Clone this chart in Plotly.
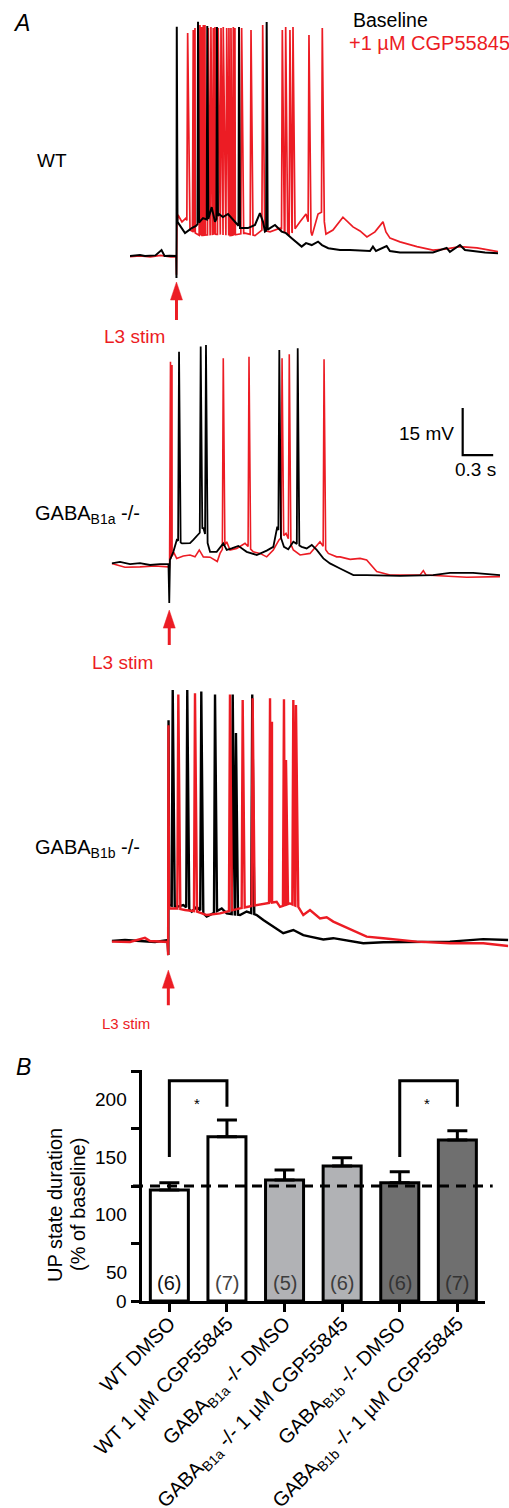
import numpy as np
import plotly.graph_objects as go

# ---------------- DATA ----------------
RED = "#ec1c24"
FONT = "Liberation Sans, Arial, Helvetica, sans-serif"

# Panel A traces: (time s, membrane potential mV) envelope points
wt_black_env = [(0, -70.0), (0.098, -69.7), (0.147, -70.0), (0.25, -69.8), (0.31, -68.1), (0.34, -70.0),
                (0.39, -69.9), (0.455, -70.0), (0.457, -77.0), (0.460, 3.2), (0.467, -59.1), (0.511, -61.4),
                (0.541, -62.7), (0.607, -61.1), (0.649, -60.4), (0.718, -57.9), (0.767, -58.5), (0.803, -54.4),
                (0.836, -59.1), (0.875, -56.6), (0.914, -57.6), (0.964, -56.6), (1.0, -57.9), (1.042, -59.1),
                (1.082, -61.1), (1.160, -61.1), (1.229, -60.1), (1.278, -56.3), (1.308, -59.1), (1.327, -62.2),
                (1.377, -61.1), (1.426, -60.1), (1.492, -62.2), (1.534, -62.7), (1.590, -64.3), (1.688, -67.0),
                (1.731, -65.9), (1.787, -66.5), (1.849, -65.4), (1.888, -66.5), (1.950, -67.5), (2.065, -68.1),
                (2.163, -68.1), (2.360, -68.4), (2.389, -67.0), (2.419, -68.4), (2.524, -66.8), (2.556, -68.4),
                (2.655, -68.9), (2.819, -69.0), (2.979, -68.9), (3.114, -67.4), (3.146, -68.7), (3.245, -66.5),
                (3.294, -68.1), (3.373, -68.4), (3.491, -68.9), (3.619, -69.1)]
wt_black_spikes = [(0.669, 4.8), (0.760, 3.4), (0.855, 3.1), (1.072, 3.1), (1.344, 4.7)]

wt_red_env = [(0, -70.2), (0.1, -70.0), (0.2, -70.3), (0.3, -69.8), (0.4, -70.3), (0.455, -70.2),
              (0.457, -76.0), (0.462, -60.0), (0.472, -56.9), (0.511, -59.1), (0.551, -57.9), (0.590, -61.7),
              (0.688, -63.5), (0.836, -63.0), (0.983, -63.5), (1.131, -62.7), (1.229, -63.5), (1.298, -61.7),
              (1.377, -62.3), (1.475, -61.1), (1.573, -63.5), (1.672, -59.1), (1.731, -56.6), (1.790, -63.5),
              (1.849, -56.6), (1.898, -55.8), (1.927, -63.0), (1.996, -61.7), (2.094, -57.6), (2.143, -59.1),
              (2.193, -60.7), (2.262, -62.0), (2.330, -63.9), (2.409, -62.3), (2.488, -59.1), (2.517, -62.3),
              (2.557, -64.3), (2.655, -65.5), (2.822, -67.0), (2.979, -68.1), (3.097, -67.8), (3.245, -67.0),
              (3.412, -67.4), (3.619, -68.6)]
wt_red_spikes = [(0.567, 1.2), (0.622, 2.1), (0.639, 2.8), (0.688, 3.7), (0.705, 3.1), (0.721, 3.7),
                 (0.737, 3.7), (0.770, 2.8), (0.796, 3.1), (0.819, 2.8), (0.836, 3.1), (0.868, 2.8),
                 (0.895, 2.8), (0.917, 3.1), (0.951, 2.8), (0.973, 2.8), (0.993, 2.8), (1.016, 3.1),
                 (1.032, 2.8), (1.098, 2.8), (1.190, 2.1), (1.305, 3.7), (1.498, 2.1), (1.531, 3.1),
                 (1.573, 2.1), (1.603, 3.1), (1.760, 0.5), (1.891, 2.8)]

b1a_black_env = [(0, -69.5), (0.082, -69.0), (0.180, -69.7), (0.278, -69.4), (0.377, -70.0), (0.475, -69.7),
                 (0.558, -69.7), (0.566, -82.1), (0.573, -68.4), (0.606, -65.8), (0.640, -62.0), (0.691, -63.1),
                 (0.770, -63.0), (0.802, -62.0), (0.852, -60.4), (0.900, -58.0), (0.967, -65.8), (1.032, -65.8),
                 (1.097, -63.1), (1.131, -65.2), (1.180, -64.7), (1.245, -63.9), (1.327, -65.8), (1.426, -66.8),
                 (1.524, -65.4), (1.589, -64.2), (1.628, -57.8), (1.694, -64.2), (1.736, -65.0), (1.786, -62.6),
                 (1.868, -64.2), (1.917, -64.7), (1.967, -63.6), (2.016, -65.2), (2.081, -67.9), (2.146, -69.5),
                 (2.245, -71.1), (2.376, -73.2), (2.507, -73.2), (2.835, -73.5), (3.159, -73.2), (3.326, -72.5),
                 (3.553, -72.5), (3.818, -73.2)]
b1a_black_spikes = [(0.662, -1.9), (0.875, -0.3), (0.927, 0.2), (1.648, -1.4), (1.829, -0.8)]

b1a_red_env = [(0, -69.5), (0.131, -70.7), (0.278, -70.6), (0.426, -70.3), (0.558, -70.6), (0.566, -71.5),
               (0.570, -69.0), (0.610, -66.0), (0.639, -67.9), (0.704, -67.1), (0.770, -66.8), (0.819, -67.4),
               (0.861, -65.2), (0.901, -67.4), (0.967, -67.5), (1.038, -68.9), (1.065, -66.3), (1.131, -62.6),
               (1.163, -65.2), (1.229, -64.7), (1.311, -63.1), (1.392, -65.8), (1.458, -66.3), (1.524, -67.4),
               (1.589, -65.2), (1.645, -62.0), (1.714, -59.9), (1.786, -65.2), (1.852, -66.8), (1.950, -66.3),
               (2.048, -62.6), (2.130, -66.3), (2.212, -67.4), (2.245, -67.4), (2.344, -68.2), (2.442, -67.9),
               (2.507, -68.4), (2.606, -72.1), (2.736, -73.2), (3.032, -73.2), (3.064, -71.8), (3.090, -73.2),
               (3.491, -73.9), (3.818, -73.7)]
b1a_red_spikes = [(0.578, -5.1), (0.593, -6.2), (1.097, -4.0), (1.350, -3.5), (1.675, -4.0), (1.746, -2.7),
                  (2.088, -4.3)]

b1b_black_env = [(0, -70.0), (0.131, -69.7), (0.278, -70.0), (0.426, -70.3), (0.549, -69.7), (0.557, -74.5),
                 (0.559, 0.5), (0.565, -58.5), (0.639, -59.1), (0.704, -58.5), (0.787, -60.6), (0.836, -59.1),
                 (0.934, -62.2), (0.967, -61.7), (1.082, -59.6), (1.131, -61.2), (1.262, -61.7), (1.327, -60.6),
                 (1.426, -61.7), (1.491, -63.3), (1.589, -65.4), (1.687, -67.5), (1.786, -66.5), (1.884, -68.1),
                 (1.950, -68.6), (2.081, -69.5), (2.179, -69.1), (2.343, -69.9), (2.474, -70.7), (2.671, -70.4),
                 (2.999, -70.2), (3.326, -70.2), (3.654, -69.4), (3.900, -69.7)]
b1b_black_spikes = [(0.600, 10.1), (0.743, 10.1), (0.881, 9.6), (1.016, 8.7), (1.190, 8.7), (1.222, -3.6),
                    (1.382, 8.7)]

b1b_red_env = [(0, -70.2), (0.180, -70.3), (0.327, -69.0), (0.377, -70.0), (0.549, -70.3), (0.555, -74.5),
               (0.558, -1.1), (0.564, -59.6), (0.640, -59.6), (0.721, -60.1), (0.836, -60.6), (0.934, -61.7),
               (1.065, -61.2), (1.131, -60.6), (1.262, -59.6), (1.426, -58.5), (1.524, -58.0), (1.622, -57.5),
               (1.655, -59.1), (1.753, -58.0), (1.835, -59.1), (1.884, -61.7), (1.950, -60.1), (2.048, -62.8),
               (2.114, -62.4), (2.179, -63.8), (2.343, -66.3), (2.507, -68.6), (2.671, -69.1), (2.999, -70.2),
               (3.326, -70.7), (3.654, -70.7), (3.900, -71.6)]
b1b_red_spikes = [(0.655, 8.7), (0.819, 9.1), (1.163, 8.7), (1.288, 6.9), (1.386, 7.5), (1.557, 7.5),
                  (1.576, 0.0), (1.694, 7.2), (1.714, -12.2), (1.786, 6.9), (1.812, 5.3)]

stim_times = [0.457, 0.566, 0.557]          # s, per panel (WT, B1a, B1b)
stim_arrow_tip = [-78.3, -84.4, -79.3]     # mV
scale_mv = 15
scale_s = 0.3

# Panel B bar chart
categories = ["WT DMSO", "WT 1 µM CGP55845", "GABA<sub>B1a</sub> -/- DMSO",
              "GABA<sub>B1a</sub> -/- 1 µM CGP55845", "GABA<sub>B1b</sub> -/- DMSO",
              "GABA<sub>B1b</sub> -/- 1 µM CGP55845"]
means = [96.5, 142.9, 105.2, 117.4, 102.9, 140.0]
sems = [6.5, 14.5, 8.7, 7.2, 9.6, 8.1]
n_cells = [6, 7, 5, 6, 6, 7]
bar_fill = ["#ffffff", "#ffffff", "#b1b2b5", "#b1b2b5", "#6f6f6f", "#6f6f6f"]
n_color = ["#111111", "#444444", "#3d3d3d", "#3d3d3d", "#333333", "#333333"]
y_tick_vals = [0, 50, 100, 150, 200]
y_tick_text = ["0", "50", "100", "150", "200"]
y_label_pos = [0, 25, 75, 125, 175]   # where the labels sit in the original
sig_pairs = [(0, 1), (4, 5)]
sig_levels = (125.3, 191.7, 169.1)
baseline_pct = 100

# ---------------- HELPERS ----------------
W, H = 509, 1508
PX_PER_S = 101.7
PX_PER_MV = 3.133
def px(x): return x / W
def py(y): return 1 - y / H

def build(env, spikes, rise, fall):
    et = np.array([p[0] for p in env]); ev = np.array([p[1] for p in env])
    keep = np.ones(len(et), bool)
    for ts, _ in spikes:
        keep &= ~((et > ts - rise) & (et < ts + fall))
    T = list(et[keep]); V = list(ev[keep])
    for ts, vp in spikes:
        T += [ts - rise, ts, ts + fall]
        V += [float(np.interp(ts - rise, et, ev)), vp, float(np.interp(ts + fall, et, ev))]
    order = np.argsort(T, kind="stable")
    return np.array(T)[order], np.array(V)[order]

fig = go.Figure()

panels = [
    ("", [(wt_red_env, wt_red_spikes, RED, 1.7, 0.008, 0.02), (wt_black_env, wt_black_spikes, "black", 2.0, 0.005, 0.01)],
     (130, 498), (15, 325), (0, 3.619), (-92.02, 6.92)),
    ("2", [(b1a_red_env, b1a_red_spikes, RED, 1.6, 0.009, 0.016), (b1a_black_env, b1a_black_spikes, "black", 1.8, 0.009, 0.016)],
     (111.7, 500), (335, 650), (0, 3.818), (-97.13, 3.41)),
    ("3", [(b1b_black_env, b1b_black_spikes, "black", 2.4, 0.01, 0.02), (b1b_red_env, b1b_red_spikes, RED, 2.4, 0.01, 0.02)],
     (111.7, 508.3), (680, 1010), (0, 3.9), (-92.02, 13.31)),
]

layout_axes = {}
for suf, trs, xd, yd, xr, yr in panels:
    for env, spk, col, lw, r, f in trs:
        t, v = build(env, spk, r, f)
        fig.add_trace(go.Scatter(x=t, y=v, mode="lines", line=dict(color=col, width=lw),
                                 xaxis="x" + suf, yaxis="y" + suf, hoverinfo="skip"))
    layout_axes["xaxis" + suf] = dict(domain=[px(xd[0]), px(xd[1])], range=list(xr), visible=False,
                                       anchor="y" + suf, fixedrange=True)
    layout_axes["yaxis" + suf] = dict(domain=[py(yd[1]), py(yd[0])], range=list(yr), visible=False,
                                       anchor="x" + suf, fixedrange=True)

# Bar chart
fig.add_trace(go.Bar(x=list(range(6)), y=means, width=0.66, xaxis="x4", yaxis="y4", hoverinfo="skip",
                     marker=dict(color=bar_fill, line=dict(color="black", width=3)),
                     error_y=dict(type="data", symmetric=False, array=sems, arrayminus=[0] * 6,
                                  color="black", thickness=3, width=10)))
layout_axes["xaxis4"] = dict(domain=[px(141.7), px(485)], range=[-0.48, 5.48], anchor="y4",
                             tickvals=list(range(6)), ticktext=categories, tickangle=-45,
                             ticks="outside", ticklen=8, tickwidth=3, tickcolor="black",
                             ticklabelstandoff=-8,
                             showline=True, linewidth=3, linecolor="black", showgrid=False, zeroline=False,
                             tickfont=dict(family=FONT, size=20, color="black"), automargin=False,
                             fixedrange=True)
layout_axes["yaxis4"] = dict(domain=[py(1301), py(1070)], range=[0, 201], anchor="x4",
                             tickvals=y_tick_vals, showticklabels=False,
                             ticks="outside", ticklen=8, tickwidth=3, tickcolor="black",
                             showline=True, linewidth=3, linecolor="black", showgrid=False, zeroline=False,
                             automargin=False, fixedrange=True)

shapes = []
sb_t, sb_v = 3.451, -34.9
shapes.append(dict(type="path", xref="x2", yref="y2",
                   path=f"M {sb_t},{sb_v + scale_mv} L {sb_t},{sb_v} L {sb_t + scale_s},{sb_v}",
                   line=dict(color="black", width=2.2)))
shapes.append(dict(type="line", xref="paper", yref="y4", x0=px(133), x1=px(492.7), y0=baseline_pct, y1=baseline_pct,
                   line=dict(color="black", width=3, dash="10px,7px"), layer="above"))
for a, b in sig_pairs:
    lo, top, lo2 = sig_levels
    shapes.append(dict(type="path", xref="x4", yref="y4",
                       path=f"M {a},{lo} L {a},{top} L {b},{top} L {b},{lo2}",
                       line=dict(color="black", width=3)))

# stimulation arrows (head 18 px tall, 12 px wide; total length in px)
for suf, ts, tip, length in zip(["", "2", "3"], stim_times, stim_arrow_tip, [38, 35, 35]):
    hh = 18 / PX_PER_MV
    hw = 6 / PX_PER_S
    tail = tip - length / PX_PER_MV
    shapes.append(dict(type="line", xref="x" + suf, yref="y" + suf, x0=ts, x1=ts, y0=tip - hh + 0.5, y1=tail,
                       line=dict(color=RED, width=3)))
    shapes.append(dict(type="path", xref="x" + suf, yref="y" + suf,
                       path=f"M {ts},{tip} L {ts - hw},{tip - hh} L {ts + hw},{tip - hh} Z",
                       fillcolor=RED, line=dict(color=RED, width=0.5)))

ann = []
def txt(text, x, y, size, color="black", xanchor="left", yanchor="middle", **kw):
    ann.append(dict(text=text, x=px(x), y=py(y), xref="paper", yref="paper", showarrow=False,
                    xanchor=xanchor, yanchor=yanchor, font=dict(family=FONT, size=size, color=color), **kw))

txt("<i>A</i>", 11, 23, 23)
txt("Baseline", 351, 20, 19.5)
txt("+1 µM CGP55845", 347, 43, 20, RED)
txt("WT", 35, 161, 19)
txt("L3 stim", 134, 337, 19, RED, xanchor="center")
txt("GABA<sub>B1a</sub> -/-", 33, 515, 20)
txt("15 mV", 456, 434, 19, xanchor="right")
txt("0.3 s", 453, 469, 19)
txt("L3 stim", 122, 662, 19, RED, xanchor="center")
txt("GABA<sub>B1b</sub> -/-", 33, 848, 20)
txt("L3 stim", 126, 1023, 15, RED, xanchor="center")
txt("<i>B</i>", 14, 1067, 23)
txt("UP state duration", 55, 1205, 20, xanchor="center", textangle=-90)
txt("(% of baseline)", 78, 1205, 20, xanchor="center", textangle=-90)

for pos, lab in zip(y_label_pos, y_tick_text):
    ann.append(dict(text=lab, x=px(128.5), y=pos, xref="paper", yref="y4", showarrow=False,
                    xanchor="right", yanchor="middle", font=dict(family=FONT, size=19, color="black")))
for i, (n, c) in enumerate(zip(n_cells, n_color)):
    ann.append(dict(text=f"({n})", x=i, y=15.7, xref="x4", yref="y4", showarrow=False,
                    font=dict(family=FONT, size=20, color=c)))
for a, b in sig_pairs:
    ann.append(dict(text="*", x=(a + b) / 2 - 0.02, y=172, xref="x4", yref="y4", showarrow=False,
                    font=dict(family=FONT, size=15, color="black")))

fig.update_layout(width=W, height=H, margin=dict(l=0, r=0, t=0, b=0), showlegend=False,
                  plot_bgcolor="white", paper_bgcolor="white", shapes=shapes, annotations=ann,
                  font=dict(family=FONT), hovermode=False, **layout_axes)
fig.write_html("out.html", config={"displayModeBar": False, "staticPlot": True},
               post_script="document.body.style.margin='0px';document.body.style.padding='0px';"
                           "document.documentElement.style.overflow='hidden';")
